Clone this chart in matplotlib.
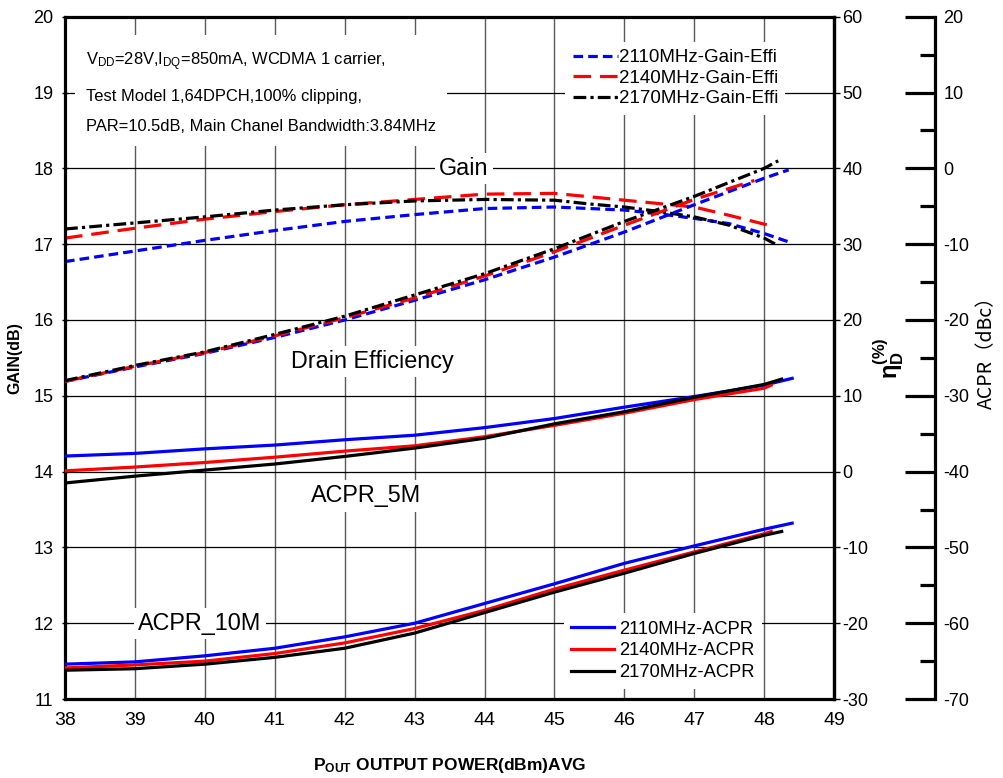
import matplotlib
matplotlib.use("Agg")
import matplotlib.pyplot as plt
from matplotlib.ticker import MultipleLocator
from matplotlib.lines import Line2D

plt.rcParams["font.family"] = ["Liberation Sans", "DejaVu Sans"]
plt.rcParams["axes.unicode_minus"] = False
plt.rcParams["mathtext.fontset"] = "custom"
plt.rcParams["mathtext.rm"] = "Liberation Sans"
plt.rcParams["mathtext.bf"] = "Liberation Sans:bold"
plt.rcParams["mathtext.it"] = "Liberation Sans:italic"

# ---- data ----
FREQS = ["2110MHz", "2140MHz", "2170MHz"]
COLORS = ["#0000ff", "#ff0000", "#000000"]

gain_x = [
    [38, 39, 40, 41, 42, 43, 44, 45, 46, 46.5, 47, 47.5, 48, 48.35],
    [38, 39, 40, 41, 42, 43, 44, 45, 46, 47, 47.5, 48.06],
    [38, 39, 40, 41, 42, 43, 44, 45, 45.5, 46, 46.5, 47, 47.5, 48, 48.2],
]
gain_db = [
    [16.77, 16.91, 17.05, 17.18, 17.30, 17.39, 17.47, 17.49, 17.45, 17.40, 17.34, 17.27, 17.14, 17.03],
    [17.08, 17.21, 17.33, 17.43, 17.52, 17.59, 17.66, 17.67, 17.58, 17.49, 17.38, 17.25],
    [17.20, 17.28, 17.36, 17.45, 17.52, 17.57, 17.59, 17.58, 17.53, 17.49, 17.43, 17.36, 17.25, 17.08, 16.98],
]

eff_x = [
    [38, 39, 40, 41, 42, 43, 44, 45, 46, 47, 48, 48.35],
    [38, 39, 40, 41, 42, 43, 44, 45, 46, 47, 47.86],
    [38, 39, 40, 41, 42, 43, 44, 45, 46, 47, 48, 48.2],
]
eff_pct = [
    [11.9, 13.8, 15.6, 17.7, 20.0, 22.6, 25.3, 28.3, 31.6, 35.2, 38.7, 39.8],
    [11.9, 13.9, 15.7, 17.9, 20.3, 22.9, 25.8, 29.0, 32.5, 35.9, 38.4],
    [12.0, 14.0, 15.8, 18.1, 20.5, 23.3, 26.1, 29.4, 33.0, 36.3, 40.0, 41.0],
]

acpr_x = [
    [38, 39, 40, 41, 42, 43, 44, 45, 46, 47, 48, 48.4],
    [38, 39, 40, 41, 42, 43, 44, 45, 46, 47, 48, 48.1],
    [38, 39, 40, 41, 42, 43, 44, 45, 46, 47, 48, 48.25],
]
acpr_5m = [
    [-37.95, -37.6, -37.0, -36.5, -35.8, -35.2, -34.2, -33.0, -31.5, -30.1, -28.6, -27.7],
    [-39.9, -39.4, -38.8, -38.1, -37.3, -36.6, -35.4, -33.9, -32.3, -30.5, -29.0, -28.6],
    [-41.5, -40.6, -39.8, -39.0, -38.0, -36.9, -35.6, -33.7, -32.1, -30.2, -28.5, -27.8],
]
acpr_10m = [
    [-65.4, -65.1, -64.3, -63.3, -61.8, -60.0, -57.4, -54.8, -52.1, -49.8, -47.6, -46.8],
    [-65.9, -65.5, -65.0, -64.0, -62.6, -60.7, -58.3, -55.5, -53.0, -50.6, -48.2, -47.9],
    [-66.2, -66.0, -65.4, -64.5, -63.3, -61.3, -58.6, -55.9, -53.4, -50.8, -48.4, -47.9],
]

CONDITIONS = [
    r"V$_{\rm DD}$=28V,I$_{\rm DQ}$=850mA, WCDMA 1 carrier,",
    "Test Model 1,64DPCH,100% clipping,",
    "PAR=10.5dB, Main Chanel Bandwidth:3.84MHz",
]

DASHES = [(0, (3.0, 1.6)), (0, (5.5, 2.8)), (0, (4.0, 1.3, 1.0, 1.3))]
LW = 2.3


def main():
    fig = plt.figure(figsize=(10.04, 7.78), dpi=100)
    ax = fig.add_axes([0.0648, 0.1015, 0.766, 0.877])
    ax_eff = ax.twinx()
    ax_acpr = ax.twinx()

    ax.set_xlim(38, 49)
    ax.set_ylim(11, 20)
    ax_eff.set_ylim(-30, 60)
    ax_acpr.set_ylim(-70, 20)

    # grid
    for xv in range(39, 49):
        ax.axvline(xv, color="0.35", linewidth=1.0, zorder=0.5)
    for yv in range(12, 20):
        ax.axhline(yv, color="black", linewidth=0.9, zorder=0.5)

    for sp in ax.spines.values():
        sp.set_linewidth(2.3)
    for a in (ax_eff, ax_acpr):
        for sp in a.spines.values():
            sp.set_visible(False)
    ax_eff.spines["right"].set_visible(True)
    ax_eff.spines["right"].set_linewidth(2.3)
    ax_acpr.spines["right"].set_visible(True)
    ax_acpr.spines["right"].set_position(("axes", 1.1313))
    ax_acpr.spines["right"].set_linewidth(2.3)

    ax.xaxis.set_major_locator(MultipleLocator(1))
    ax.yaxis.set_major_locator(MultipleLocator(1))
    ax.tick_params(axis="x", direction="in", length=0, pad=9, labelsize=14)
    ax.tick_params(axis="y", direction="inout", length=5, width=1, pad=6, labelsize=13)
    ax_eff.yaxis.set_major_locator(MultipleLocator(10))
    ax_eff.tick_params(axis="y", direction="out", length=4, width=1, pad=2, labelsize=13)

    ax_acpr.yaxis.set_major_locator(MultipleLocator(10))
    ax_acpr.yaxis.set_minor_locator(MultipleLocator(5))
    ax_acpr.tick_params(axis="y", which="major", direction="in", length=21.5, width=2.3,
                        pad=6, labelsize=13)
    ax_acpr.tick_params(axis="y", which="minor", direction="in", length=11, width=2.3)

    # curves
    for i in range(3):
        ax.plot(gain_x[i], gain_db[i], color=COLORS[i], linestyle=DASHES[i], linewidth=LW)
        ax_eff.plot(eff_x[i], eff_pct[i], color=COLORS[i], linestyle=DASHES[i], linewidth=LW)
        ax_acpr.plot(acpr_x[i], acpr_5m[i], color=COLORS[i], linewidth=LW)
        ax_acpr.plot(acpr_x[i], acpr_10m[i], color=COLORS[i], linewidth=LW)

    # axis labels
    ax.set_xlabel(r"$\mathbf{P_{OUT}}$ OUTPUT POWER(dBm)AVG", fontsize=12.5,
                  fontweight="bold", labelpad=20)
    ax.set_ylabel("GAIN(dB)", fontsize=11.5, fontweight="bold", labelpad=8)
    ax_eff.set_ylabel(r"$\mathbf{\eta_D^{(\%)}}$", fontsize=17, labelpad=2)
    ax_acpr.set_ylabel("ACPR（dBc）", fontsize=14,
                       family=["Noto Sans CJK SC", "Liberation Sans"])
    ax_acpr.yaxis.set_label_coords(1.184, 0.515)

    # annotations
    box = dict(facecolor="white", edgecolor="none", pad=3)
    ax.text(38.3, 19.0, "\n".join(CONDITIONS), fontsize=11.9, va="center", ha="left",
            linespacing=2.3, bbox=dict(facecolor="white", edgecolor="none", pad=8), zorder=3)
    ax.text(43.7, 18.0, "Gain", fontsize=16.8, ha="center", va="center", bbox=box, zorder=3)
    ax.text(42.39, 15.45, "Drain Efficiency", fontsize=16.8, ha="center", va="center",
            bbox=box, zorder=3)
    ax.text(42.31, 13.68, "ACPR_5M", fontsize=16.8, ha="center", va="center", bbox=box, zorder=3)
    ax.text(39.93, 12.0, "ACPR_10M", fontsize=16.8, ha="center", va="center", bbox=box, zorder=3)

    # legends
    gain_handles = [Line2D([], [], color=COLORS[i], linestyle=DASHES[i], linewidth=LW)
                    for i in range(3)]
    leg1 = ax_acpr.legend(gain_handles, [f"{f}-Gain-Effi" for f in FREQS],
                          loc="upper left", bbox_to_anchor=(0.638, 0.977), fontsize=13.5,
                          frameon=True, fancybox=False, edgecolor="none", framealpha=1,
                          handlelength=2.4, handletextpad=0.05, labelspacing=0.18,
                          borderpad=0.4)
    ax_acpr.add_artist(leg1)
    acpr_handles = [Line2D([], [], color=COLORS[i], linewidth=LW) for i in range(3)]
    ax_acpr.legend(acpr_handles, [f"{f}-ACPR" for f in FREQS],
                   loc="upper left", bbox_to_anchor=(0.637, 0.139), fontsize=13.2,
                   frameon=True, fancybox=False, edgecolor="none", framealpha=1,
                   handlelength=2.3, handletextpad=0.3, labelspacing=0.26, borderpad=0.4)

    fig.savefig("out.png", dpi=100)


if __name__ == "__main__":
    main()
